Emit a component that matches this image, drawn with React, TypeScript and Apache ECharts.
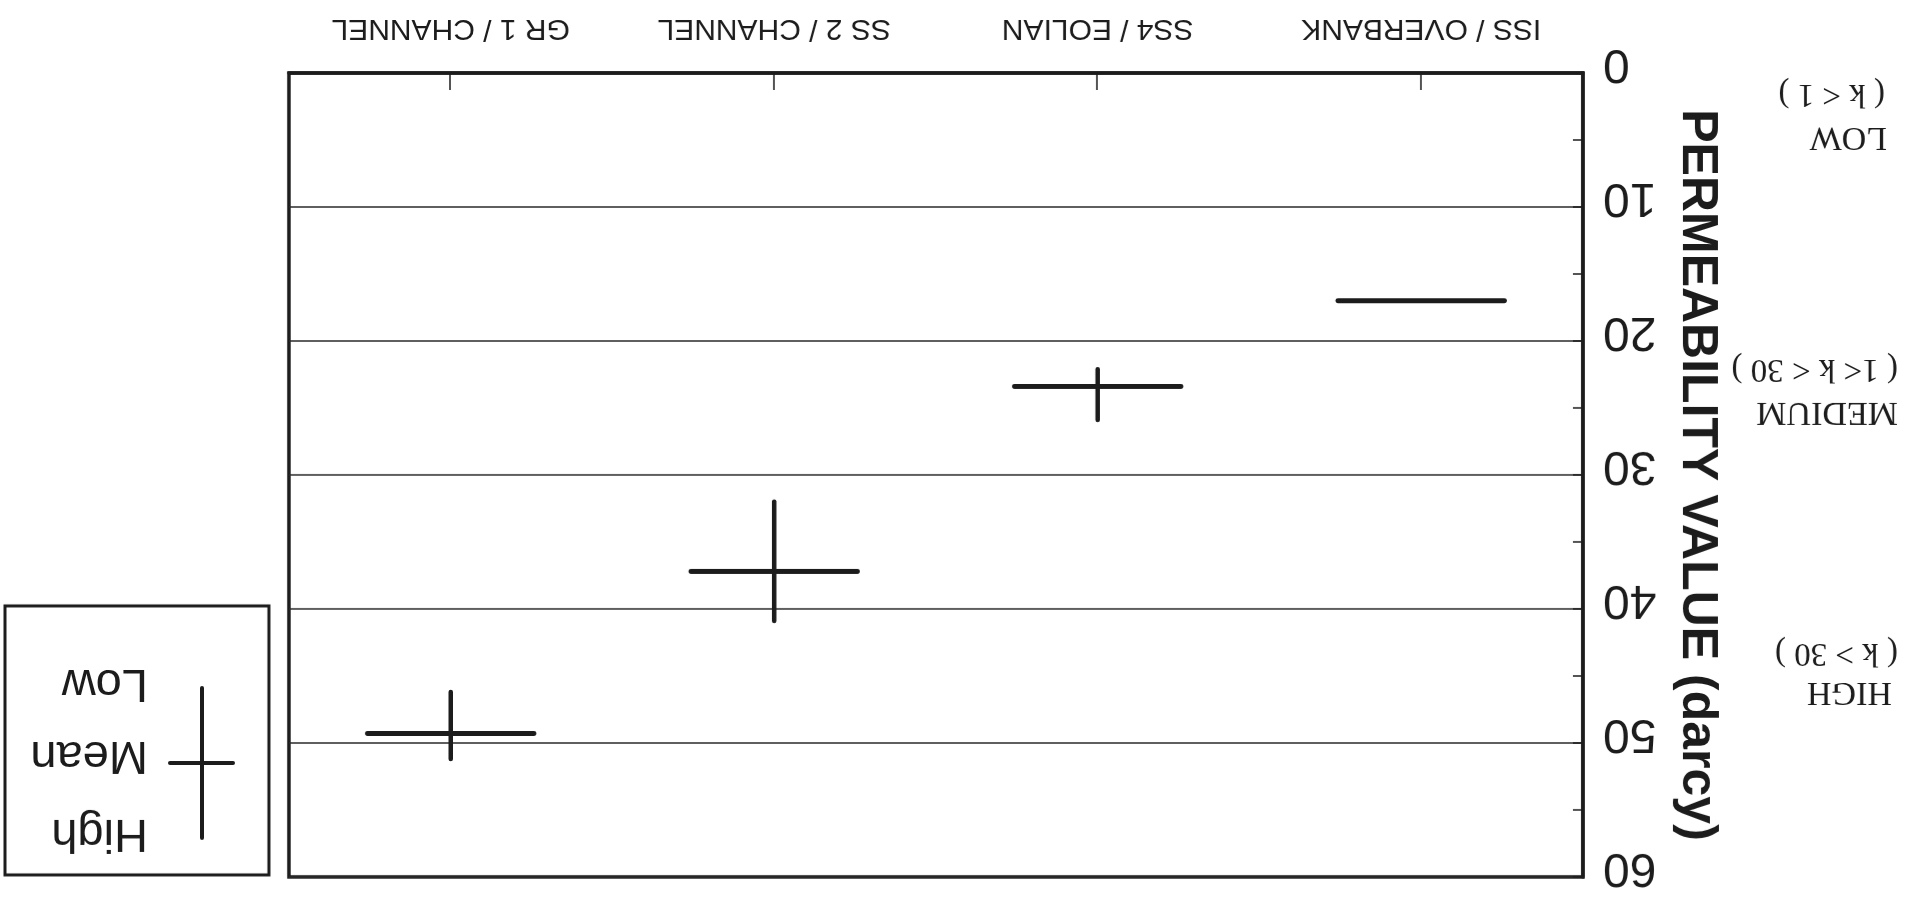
import React, { useEffect, useRef } from "react";
import * as echarts from "echarts";

// Categories in the chart's own (upright) order, left to right
const categories: string[] = ["ISS / OVERBANK", "SS4 / EOLIAN", "SS 2 / CHANNEL", "GR 1 / CHANNEL"];
// Permeability values (darcy)
const meanValues: number[] = [17.0, 23.4, 37.2, 49.3];
const lowValues: number[] = [17.0, 22.1, 32.0, 46.2];
const highValues: number[] = [17.0, 25.9, 40.9, 51.2];
// Y axis
const yMin = 0;
const yMax = 60;
const yInterval = 10;
const yAxisTitle = "PERMEABILITY VALUE (darcy)";
// Class annotations
const classNames: string[] = ["HIGH", "MEDIUM", "LOW"];
const classRanges: string[] = ["( k > 30 )", "( 1< k < 30 )", "( k < 1 )"];
// Legend entries
const legendLabels: string[] = ["High", "Mean", "Low"];

const INK = "#1c1c1c";
const SANS = "'Liberation Sans', Arial, Helvetica, sans-serif";
const SERIF = "'Liberation Serif', 'Times New Roman', serif";

export default function App() {
  const ref = useRef<HTMLDivElement>(null);

  useEffect(() => {
    if (!ref.current) return;
    const chart = echarts.init(ref.current, null, { renderer: "svg" });

    const data = categories.map((_, i) => [i, meanValues[i], lowValues[i], highValues[i]]);

    // annotation positions (upright layout)
    const classPos = [
      { x: 16, y1: 204, x2: 10, y2: 244 },
      { x: 10, y1: 484, x2: 10, y2: 528 },
      { x: 21, y1: 759, x2: 23, y2: 803 },
    ];
    const classTexts: any[] = [];
    classNames.forEach((n, i) => {
      const p = classPos[i];
      classTexts.push({
        type: "text",
        x: p.x,
        y: p.y1,
        style: { text: n, font: `34px ${SERIF}`, fill: INK, align: "left", verticalAlign: "middle" },
      });
      classTexts.push({
        type: "text",
        x: p.x2,
        y: p.y2,
        style: { text: classRanges[i], font: `33px ${SERIF}`, fill: INK, align: "left", verticalAlign: "middle" },
      });
    });

    const legendY = [62, 140, 212];
    const legend = {
      type: "group",
      children: [
        {
          type: "rect",
          shape: { x: 1639, y: 24, width: 264, height: 269 },
          style: { fill: "#fff", stroke: INK, lineWidth: 3 },
        },
        {
          type: "line",
          shape: { x1: 1706, y1: 61, x2: 1706, y2: 211 },
          style: { stroke: INK, lineWidth: 4, lineCap: "round" },
        },
        {
          type: "line",
          shape: { x1: 1675, y1: 136, x2: 1738, y2: 136 },
          style: { stroke: INK, lineWidth: 4, lineCap: "round" },
        },
        ...legendLabels.map((t, i) => ({
          type: "text",
          x: 1760,
          y: legendY[i],
          style: { text: t, font: `47px ${SANS}`, fill: INK, align: "left", verticalAlign: "middle" },
        })),
      ],
    };

    chart.setOption({
      animation: false,
      backgroundColor: "#ffffff",
      grid: {
        left: 325,
        right: 289,
        top: 22,
        bottom: 73,
        show: true,
        borderColor: INK,
        borderWidth: 3.5,
        backgroundColor: "transparent",
      },
      xAxis: {
        type: "category",
        data: categories,
        boundaryGap: true,
        axisLine: { show: true, lineStyle: { color: INK, width: 3.5 } },
        axisTick: { show: true, alignWithLabel: true, inside: true, length: 17, lineStyle: { color: INK, width: 1.5 } },
        axisLabel: { fontSize: 30, fontFamily: SANS, color: INK, margin: 27 },
        splitLine: { show: false },
      },
      yAxis: {
        type: "value",
        min: yMin,
        max: yMax,
        interval: yInterval,
        name: yAxisTitle,
        nameLocation: "middle",
        nameRotate: 90,
        nameGap: 92,
        nameTextStyle: { fontSize: 50, fontWeight: "bold", fontFamily: SANS, color: INK },
        axisLine: { show: true, lineStyle: { color: INK, width: 3.5 } },
        axisTick: { show: true, inside: true, length: 10, lineStyle: { color: INK, width: 1.5 } },
        minorTick: { show: true, splitNumber: 2, length: 10, lineStyle: { color: INK, width: 1.5 } },
        axisLabel: {
          fontSize: 48,
          lineHeight: 12,
          verticalAlign: "top",
          fontFamily: SANS,
          color: INK,
          margin: 20,
        },
        splitLine: { show: true, lineStyle: { color: "#2a2a2a", width: 1.5 } },
      },
      series: [
        {
          type: "custom",
          data,
          encode: { x: 0, y: [1, 2, 3] },
          renderItem: (params: any, api: any) => {
            const idx = api.value(0);
            const mean = api.value(1);
            const low = api.value(2);
            const high = api.value(3);
            const c = api.coord([idx, mean]);
            const lo = api.coord([idx, low]);
            const hi = api.coord([idx, high]);
            const half = api.size([1, 0])[0] * 0.257;
            const children: any[] = [
              {
                type: "line",
                shape: { x1: c[0] - half, y1: c[1], x2: c[0] + half, y2: c[1] },
                style: { stroke: INK, lineWidth: 5, lineCap: "round" },
              },
            ];
            if (high > low) {
              children.push({
                type: "line",
                shape: { x1: lo[0], y1: lo[1], x2: hi[0], y2: hi[1] },
                style: { stroke: INK, lineWidth: 4.5, lineCap: "round" },
              });
            }
            return { type: "group", children };
          },
        },
      ],
      graphic: [...classTexts, legend],
    });

    return () => chart.dispose();
  }, []);

  return (
    <div
      style={{
        position: "fixed",
        left: 0,
        top: 0,
        width: 1908,
        height: 899,
        background: "#fff",
        transform: "rotate(180deg)",
        transformOrigin: "50% 50%",
      }}
    >
      <div ref={ref} style={{ width: 1908, height: 899 }} />
    </div>
  );
}
